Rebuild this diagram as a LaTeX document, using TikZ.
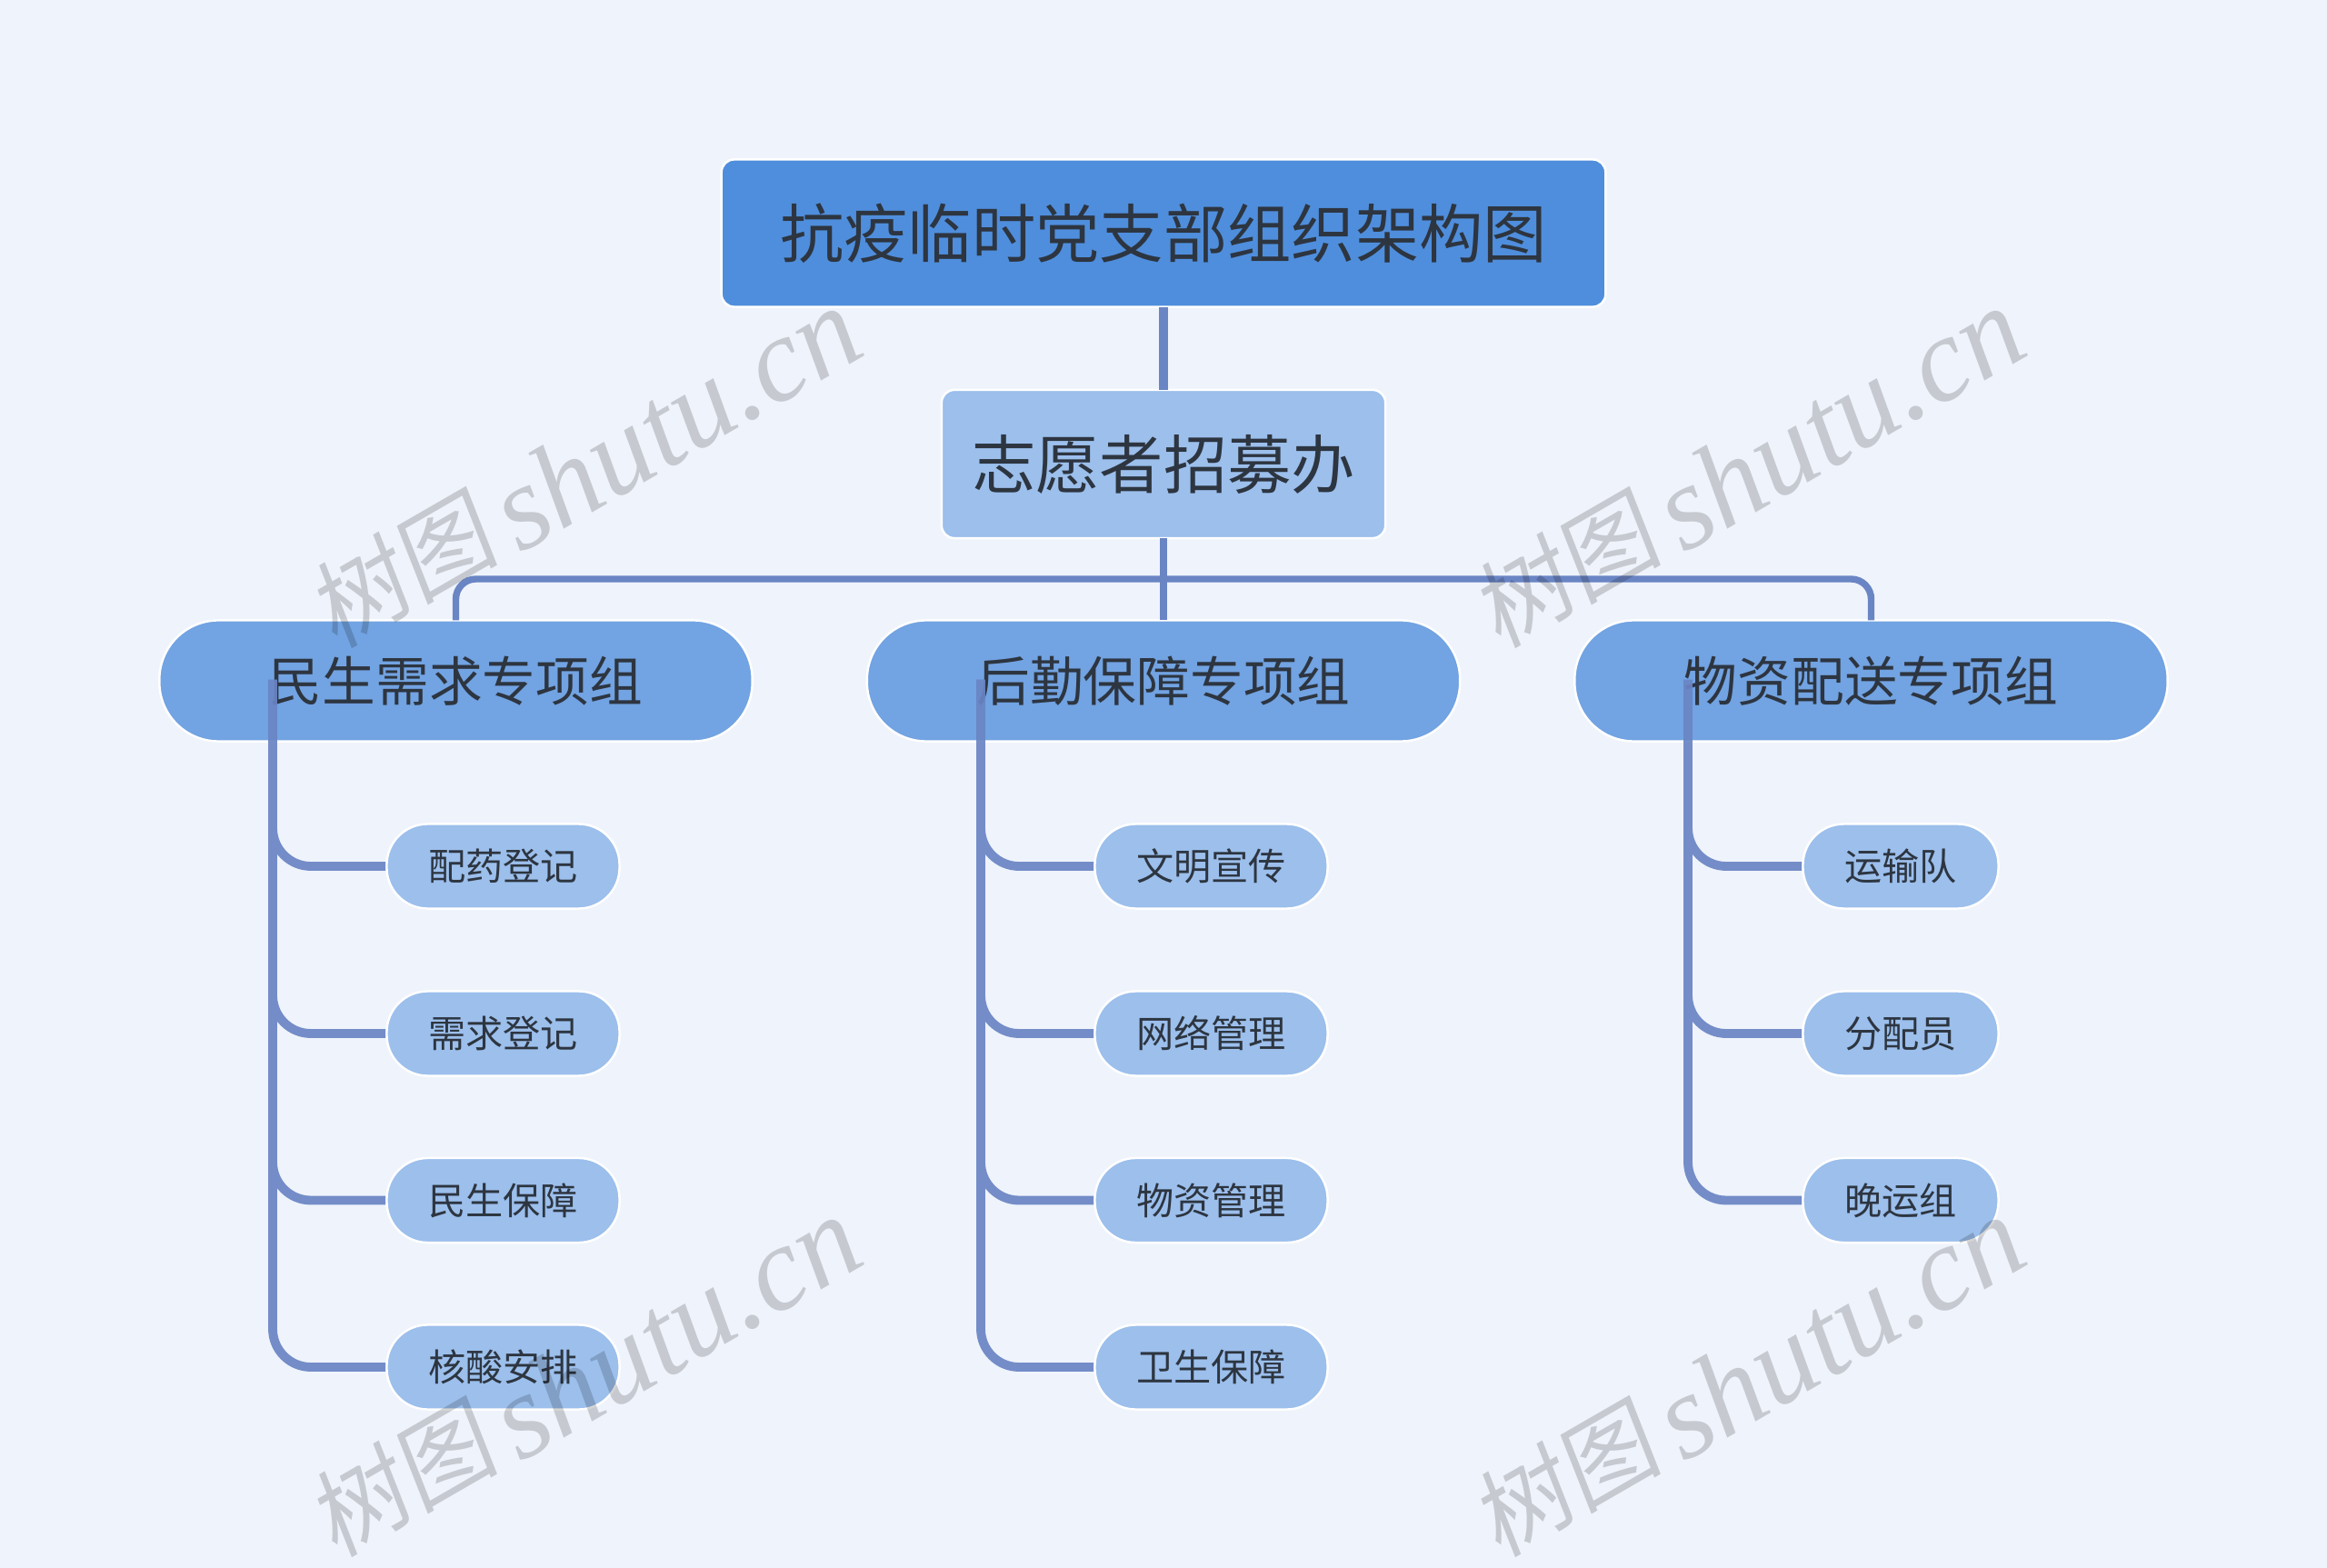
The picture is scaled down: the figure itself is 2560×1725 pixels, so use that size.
\documentclass[tikz,border=0pt]{standalone}
\usepackage{fontspec}
\setmainfont{Noto Sans CJK SC}
\newfontfamily\markcjk[FakeSlant=0.15]{Noto Sans CJK SC}
\newfontfamily\marklatin{Liberation Serif}
\definecolor{pagebg}{HTML}{EFF3FB}
\definecolor{rootblue}{HTML}{4F8EDC}
\definecolor{groupblue}{HTML}{72A3E2}
\definecolor{leafblue}{HTML}{9CBFEC}
\definecolor{linkblue}{HTML}{6A85C4}
\definecolor{inkgrey}{HTML}{2D3540}
\tikzset{
  boxnode/.style={draw=white, line width=0.7pt, inner sep=0pt, outer sep=0pt, text=inkgrey, align=center},
  rootnode/.style={boxnode, fill=rootblue, rounded corners=0.14cm, minimum width=9.72cm, minimum height=1.62cm, font=\fontsize{20}{24}\selectfont},
  officenode/.style={boxnode, fill=leafblue, rounded corners=0.14cm, minimum width=4.88cm, minimum height=1.63cm, font=\fontsize{20}{24}\selectfont},
  groupnode/.style={boxnode, fill=groupblue, rounded corners=0.65cm, minimum width=6.52cm, minimum height=1.33cm, font=\fontsize{16.7}{20}\selectfont},
  leafnode/.style={boxnode, fill=leafblue, rounded corners=0.45cm, minimum width=2.56cm, minimum height=0.93cm, font=\fontsize{11.7}{14}\selectfont},
  shortleaf/.style={leafnode, minimum width=2.15cm},
  toplink/.style={draw=linkblue, line width=2.7pt},
  buslink/.style={draw=linkblue, line width=2.1pt, rounded corners=0.22cm},
  leaflink/.style={draw=linkblue, line width=2.8pt, rounded corners=0.42cm, shorten >=0.4pt},
  watermark/.style={text=black, opacity=0.17, rotate=30, inner sep=0pt}
}
\newcommand{\shutumark}{\raisebox{3pt}{\markcjk\fontsize{30}{34}\selectfont 树图}\hspace{5pt}{\marklatin\itshape\fontsize{37.5}{40}\selectfont shutu.cn}}
\begin{document}
\begin{tikzpicture}[x=0.01cm, y=-0.01cm]
    \useasboundingbox (0,0) rectangle (2560,1725);
    \fill[pagebg] (0,0) rectangle (2560,1725);

    % Top of the chart
    \node[rootnode] (root) at (1280,256.5) {抗疫临时党支部组织架构图};
    \node[officenode] (office) at (1280,510.5) {志愿者招募办};
    \draw[toplink] (root.south) -- (office.north);

    % Three working groups
    \node[groupnode] (medgroup) at (501.5,749) {民生需求专项组};
    \node[groupnode] (aidgroup) at (1280,749) {后勤保障专项组};
    \node[groupnode] (supgroup) at (2058.5,749) {物资配送专项组};
    \coordinate (busmid) at (1280,637);
    \draw[buslink] (office.south) -- (aidgroup.north);
    \draw[buslink] (busmid) -| (medgroup.north);
    \draw[buslink] (busmid) -| (supgroup.north);

    % Leaves of the left group
    \node[leafnode] (medone) at (553.5,953) {配药登记};
    \node[leafnode] (medtwo) at (553.5,1137) {需求登记};
    \node[leafnode] (medthree) at (553.5,1320.5) {民生保障};
    \node[leafnode] (medfour) at (553.5,1504) {核酸安排};

    % Leaves of the middle group
    \node[leafnode] (aidone) at (1332.5,953) {文明宣传};
    \node[leafnode] (aidtwo) at (1332.5,1137) {网络管理};
    \node[leafnode] (aidthree) at (1332.5,1320.5) {物资管理};
    \node[leafnode] (aidfour) at (1332.5,1504) {卫生保障};

    % Leaves of the right group
    \node[shortleaf] (supone) at (2091,953) {运输队};
    \node[shortleaf] (suptwo) at (2091,1137) {分配员};
    \node[shortleaf] (supthree) at (2091,1320.5) {晚运组};

    % Trunks start inside the group boxes
    \coordinate (medtrunk) at (300,748);
    \coordinate (aidtrunk) at (1079,748);
    \coordinate (suptrunk) at (1857,748);

    \begin{scope}[transparency group, opacity=0.92]
        \draw[leaflink] (medtrunk) |- (medone.west);
        \draw[leaflink] (medtrunk) |- (medtwo.west);
        \draw[leaflink] (medtrunk) |- (medthree.west);
        \draw[leaflink] (medtrunk) |- (medfour.west);
        \draw[leaflink] (aidtrunk) |- (aidone.west);
        \draw[leaflink] (aidtrunk) |- (aidtwo.west);
        \draw[leaflink] (aidtrunk) |- (aidthree.west);
        \draw[leaflink] (aidtrunk) |- (aidfour.west);
        \draw[leaflink] (suptrunk) |- (supone.west);
        \draw[leaflink] (suptrunk) |- (suptwo.west);
        \draw[leaflink] (suptrunk) |- (supthree.west);
    \end{scope}

    % Site marks on top of everything
    \node[watermark] (marka) at (641,514) {\shutumark};
    \node[watermark] (markb) at (1921,514) {\shutumark};
    \node[watermark] (markc) at (641,1514) {\shutumark};
    \node[watermark] (markd) at (1921,1514) {\shutumark};
\end{tikzpicture}
\end{document}
